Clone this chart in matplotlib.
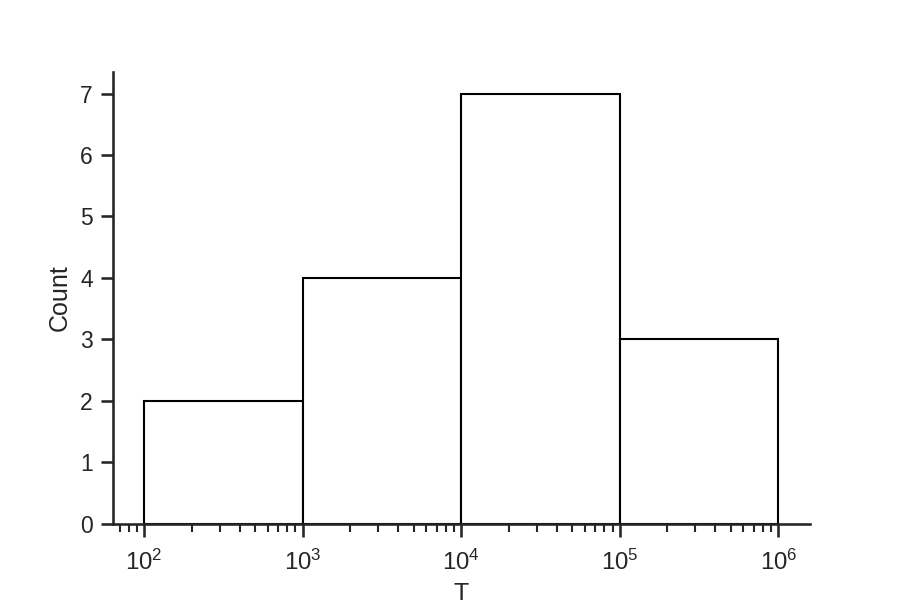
import matplotlib
matplotlib.use("Agg")
import matplotlib.pyplot as plt
import seaborn as sns
import numpy as np

sns.set_theme(style="ticks")
plt.rcParams['font.family'] = ['Liberation Sans', 'DejaVu Sans']

bin_edges = [1e2, 1e3, 1e4, 1e5, 1e6]
counts = [2, 4, 7, 3]

fig = plt.figure(figsize=(6, 4), dpi=150)
ax = fig.add_axes([0.125, 0.127, 0.775, 0.753])
ax.hist(bin_edges[:-1], bins=bin_edges, weights=counts, facecolor='white', edgecolor='black', linewidth=1.0)
ax.set_xscale('log')
ax.tick_params(axis='x', which='major', pad=6.5, labelsize=11.5)
ax.set_xlabel('T', labelpad=3.5)
ax.set_ylabel('Count')
sns.despine(ax=ax)
fig.savefig('out.png', dpi=150)
